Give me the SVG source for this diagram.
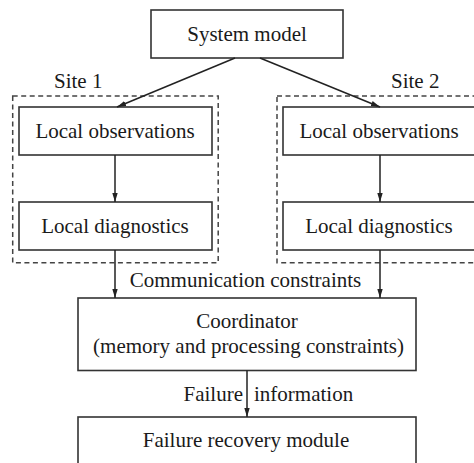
<svg xmlns="http://www.w3.org/2000/svg" width="474" height="463" viewBox="0 0 474 463">
  <defs>
    <marker id="ah" viewBox="0 0 10 10" refX="10" refY="5" markerWidth="9" markerHeight="9" markerUnits="userSpaceOnUse" orient="auto">
      <path d="M0,2 L10,5 L0,8 Z" fill="#222"/>
    </marker>
    <style>
      .box { fill: #fff; stroke: #333; stroke-width: 1.6; }
      .site { fill: none; stroke: #444; stroke-width: 1.5; stroke-dasharray: 5 3.5; }
      .t { font-family: "Liberation Serif", "Times New Roman", serif; font-size: 21px; fill: #1a1a1a; }
      .c { text-anchor: middle; }
      .edge { stroke: #222; stroke-width: 1.5; fill: none; marker-end: url(#ah); }
    </style>
  </defs>
  <rect width="474" height="463" fill="#fff"/>

  <g id="site1">
    <rect class="site" x="12.7" y="96" width="205.5" height="166.7"/>
    <text class="t" x="54" y="88">Site 1</text>
  </g>
  <g id="site2">
    <rect class="site" x="277" y="96" width="206" height="166.7"/>
    <text class="t" x="391" y="88">Site 2</text>
  </g>

  <g id="system-model">
    <rect class="box" x="151" y="10" width="192" height="48"/>
    <text class="t c" x="247" y="41">System model</text>
  </g>
  <g id="local-obs-1">
    <rect class="box" x="19" y="107" width="193" height="48"/>
    <text class="t c" x="115" y="138">Local observations</text>
  </g>
  <g id="local-diag-1">
    <rect class="box" x="19" y="202" width="193" height="48"/>
    <text class="t c" x="115" y="233">Local diagnostics</text>
  </g>
  <g id="local-obs-2">
    <rect class="box" x="283" y="107" width="193" height="48"/>
    <text class="t c" x="379" y="138">Local observations</text>
  </g>
  <g id="local-diag-2">
    <rect class="box" x="283" y="202" width="193" height="48"/>
    <text class="t c" x="379" y="233">Local diagnostics</text>
  </g>
  <g id="coordinator">
    <rect class="box" x="78" y="298" width="338" height="72.5"/>
    <text class="t c" x="247" y="328">Coordinator</text>
    <text class="t c" x="248.5" y="353">(memory and processing constraints)</text>
  </g>
  <g id="failure-recovery">
    <rect class="box" x="78" y="417" width="338" height="50"/>
    <text class="t c" x="246" y="447">Failure recovery module</text>
  </g>

  <g id="connectors">
    <line class="edge" x1="235" y1="58" x2="117" y2="107"/>
    <line class="edge" x1="260" y1="58" x2="380" y2="107"/>
    <line class="edge" x1="115" y1="155" x2="115" y2="202"/>
    <line class="edge" x1="380" y1="155" x2="380" y2="202"/>
    <line class="edge" x1="115" y1="250" x2="115" y2="298"/>
    <line class="edge" x1="380" y1="250" x2="380" y2="298"/>
    <line class="edge" x1="247" y1="370.5" x2="247" y2="417"/>
    <text class="t c" x="245.5" y="287">Communication constraints</text>
    <text class="t" x="243" y="401" text-anchor="end">Failure</text>
    <text class="t" x="254" y="401">information</text>
  </g>
</svg>
